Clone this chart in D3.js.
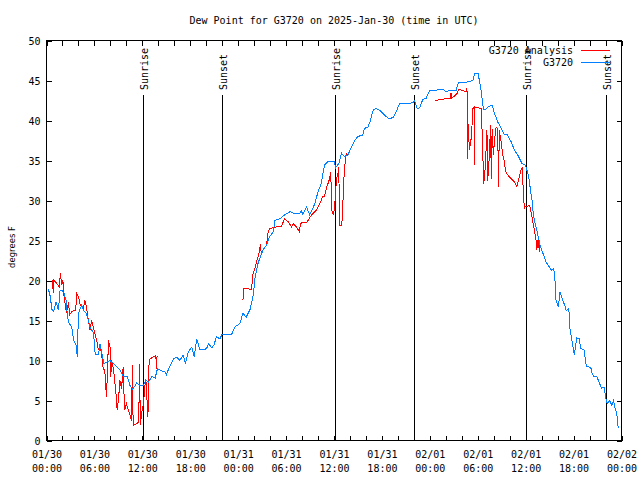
<!DOCTYPE html>
<html><head><meta charset="utf-8">
<script src="https://cdn.jsdelivr.net/npm/d3@7"></script>
<style>
body{margin:0;background:#fff}
svg text{font-family:"DejaVu Sans Mono","Liberation Mono",monospace;font-size:10px;fill:#000}
</style>
</head><body><svg id="chart" width="640" height="480"></svg>
<script>
// ---- data (hours since 2025-01-30 00:00 UTC, dew point in °F) ----
const blueHours = [0.2,0.4,0.7,0.9,1.2,1.5,1.7,1.9,2.2,2.45,2.55,2.75,3.15,3.4,3.7,3.85,4.0,4.4,4.6,5.0,5.45,5.9,6.1,6.5,6.7,6.9,7.2,7.55,7.95,8.4,8.8,9.2,9.6,10.1,10.45,10.8,11.3,11.7,12.1,12.45,12.75,13.2,13.6,13.9,14.4,14.8,15.0,15.4,15.9,16.3,16.7,17.1,17.4,17.75,18.2,18.5,18.8,19.2,19.6,20.05,20.3,20.7,20.95,21.3,21.7,22.0,23.2,23.6,24.2,24.6,25.0,25.5,25.9,26.1,26.5,27.1,27.55,27.95,28.4,28.6,29.2,29.8,30.5,30.9,31.7,31.9,32.1,32.55,32.95,33.6,34.0,34.4,34.8,35.25,36.0,36.2,36.6,36.95,37.3,37.75,38.2,38.6,39.0,39.6,39.8,40.25,40.5,40.9,41.3,41.7,42.1,42.5,42.95,43.4,43.8,44.2,45.9,46.1,46.4,46.75,47.1,47.55,48.0,48.8,49.6,50.05,50.5,51.3,51.6,52.3,52.95,53.4,53.6,54.05,54.2,54.45,54.7,55.0,55.45,55.8,56.1,56.5,56.9,57.3,57.7,58.2,58.6,59.0,59.55,59.96,60.25,60.45,60.6,60.8,60.9,61.1,61.3,61.5,61.85,62.2,62.55,62.95,63.2,63.5,63.65,63.8,64.1,64.3,64.6,64.95,65.1,65.4,65.55,65.8,66.1,66.4,66.7,66.9,67.3,67.6,67.9,68.2,68.3,68.5,68.9,69.2,69.5,69.8,70.05,70.2,70.5,70.8,71.0,71.2,71.4,71.6];
const blueValues = [18.9,18.4,16.3,16.1,17.3,16.3,18.8,18.8,18.4,17.5,16.3,14.8,14.2,12.5,11.9,10.5,15.9,16.9,16.3,15.9,14.2,13.4,10.7,10.7,12.1,11.1,9.6,9.8,10.0,9.6,9.2,8.8,8.0,8.0,6.9,6.4,7.2,6.9,6.8,7.6,7.3,8.0,7.8,9.0,8.7,8.6,8.2,9.2,10.2,10.4,10.0,10.7,9.6,11.1,11.7,10.4,12.7,11.4,11.3,11.5,12.1,11.6,11.9,13.0,12.7,13.3,13.3,14.2,14.6,15.9,15.4,16.4,18.2,20.3,22.2,23.8,24.4,25.5,26.1,27.5,27.7,28.2,28.6,28.4,28.4,28.7,28.3,29.2,28.2,29.6,31.1,32.1,34.4,34.9,34.9,34.1,34.6,35.9,35.5,35.7,36.7,37.5,38.0,38.2,39.0,39.2,39.8,41.3,41.5,41.3,40.9,40.5,40.2,40.4,41.1,42.1,42.2,42.5,41.5,41.6,42.6,42.8,43.8,43.8,43.9,43.6,43.8,43.8,44.8,44.7,44.9,45.0,45.9,45.9,45.0,43.6,41.4,41.4,41.8,41.9,40.9,39.8,39.1,38.3,38.2,37.3,36.3,35.7,34.6,34.4,33.5,32.5,31.3,30.0,28.8,27.5,26.7,25.8,24.2,23.3,22.3,21.7,21.3,21.5,20.4,17.5,16.7,18.6,17.7,16.7,16.2,16.5,13.9,12.5,10.7,12.8,12.7,11.5,11.3,9.3,9.2,9.0,8.5,8.0,8.0,7.3,6.5,6.7,5.2,4.6,5.0,4.4,5.0,4.0,3.4,1.5];

const redHours = [0.75,0.85,0.9,1.3,1.6,1.75,1.9,2.05,2.2,2.5,2.75,2.9,3.15,3.65,3.8,4.0,4.2,4.4,4.6,4.8,5.0,5.25,5.45,5.65,5.9,6.1,6.3,6.5,6.7,6.9,7.1,7.3,7.5,7.65,7.75,7.95,8.05,8.15,8.4,8.7,8.85,9.0,9.2,9.4,9.6,9.7,9.8,10.0,10.25,10.45,10.65,10.75,10.85,11.3,11.55,11.65,11.75,11.95,12.15,12.3,12.45,12.7,12.8,12.95,13.3,13.7,13.75,13.85,
  19.0,
  24.6,24.65,25.7,25.8,26.1,26.3,26.6,26.8,26.9,27.1,27.55,27.75,27.95,28.4,28.8,29.4,29.8,30.3,30.7,30.9,31.3,31.65,31.8,32.1,32.6,33.2,33.6,33.8,34.3,34.6,34.8,35.1,35.45,35.6,35.7,35.95,36.1,36.2,36.3,36.5,36.6,36.7,36.9,37.05,37.2,37.45,37.6,37.7,
  43.0,
  48.6,49.2,49.8,50.6,50.65,50.7,50.9,51.45,51.6,52.55,52.65,52.75,52.8,52.95,53.2,53.4,53.55,53.6,53.65,54.35,54.45,54.75,54.95,55.15,55.25,55.45,55.6,55.7,55.8,55.95,56.1,56.3,56.5,56.6,56.7,56.9,57.1,57.3,57.5,57.75,58.2,58.6,58.9,59.0,59.2,59.4,59.6,59.7,59.85,59.9,60.05,60.5,60.7,60.9,61.1,61.3,61.4,61.5,61.6,61.7,61.75];
const redValues = [20.0,18.4,20.1,19.6,19.2,20.9,19.4,20.0,18.0,15.9,17.3,15.7,16.1,16.3,18.4,18.0,17.1,16.7,16.5,17.5,16.7,15.0,13.8,15.0,14.0,13.2,12.5,11.3,12.1,10.7,9.0,8.8,5.5,8.8,12.5,11.7,8.0,10.0,8.8,5.9,3.8,5.0,7.5,6.5,9.2,5.9,3.8,4.6,3.8,3.2,2.5,9.4,1.9,2.1,2.3,9.5,2.0,3.6,4.6,6.7,7.5,2.9,9.2,10.2,10.4,10.6,9.0,10.6,
  null,
  17.5,19.0,18.9,20.7,21.5,22.3,23.4,24.6,23.2,23.8,24.4,26.1,26.5,26.6,26.7,26.7,27.7,27.3,26.7,27.1,26.7,26.1,27.1,27.3,27.3,28.2,28.6,28.8,29.8,30.5,30.5,31.7,32.7,33.6,28.8,28.2,29.6,30.9,32.7,33.4,34.2,26.9,26.9,27.7,32.3,35.5,35.9,35.7,
  null,
  42.5,42.6,42.7,42.7,43.4,42.8,42.9,43.4,43.9,43.6,44.0,35.2,39.6,36.3,37.9,41.5,41.7,34.4,41.7,41.5,41.5,32.1,34.2,38.8,32.5,35.5,39.4,32.7,38.9,35.7,37.5,39.2,39.0,31.7,38.8,37.5,35.9,35.0,33.6,33.2,32.7,32.3,31.7,32.1,32.9,33.8,34.2,30.9,29.0,29.2,29.2,29.4,28.4,27.3,26.3,25.0,23.8,24.8,25.4,23.6,24.6];

const sunLabels = ["Sunrise","Sunset","Sunrise","Sunset","Sunrise","Sunset"];
const sunHours = [12.12,22.02,36.17,46.06,60.08,70.1];

const yTickValues = [0,5,10,15,20,25,30,35,40,45,50];
const xLabelHours = [0,6,12,18,24,30,36,42,48,54,60,66,72];
const xMinorHours = d3.range(0,73,2);
const seriesNames = ["G3720 Analysis","G3720"];

const titleText = "Dew Point for G3720 on 2025-Jan-30 (time in UTC)";
const yLabelText = "degrees F";

// ---- layout / style ----
const colors = {analysis:"#ff0000", obs:"#0080ff"};
const L = 46.5, R = 621.5, T = 40.5, B = 440.5;
const t0 = Date.UTC(2025,0,30,0,0,0);
const toDate = h => new Date(t0 + h*3600e3);

const svg = d3.select("#chart");
const x = d3.scaleUtc().domain([toDate(0), toDate(72)]).range([L, R]);
const y = d3.scaleLinear().domain([0,50]).range([B, T]);

// title
svg.append("text").attr("x",(L+R)/2).attr("y",24).attr("text-anchor","middle").text(titleText);

// y label
svg.append("text").attr("transform","translate(15,247) rotate(-90)")
  .attr("text-anchor","middle")
  .style("font-family","'DejaVu Sans',sans-serif").style("font-size","8.5px")
  .text(yLabelText);

// axes ticks (inward, mirrored)
const tickStyle = g => { g.select(".domain").remove(); g.selectAll("line").attr("stroke","#000").attr("shape-rendering","crispEdges"); };
const minorDates = xMinorHours.map(toDate);
svg.append("g").attr("transform",`translate(0,${B})`)
  .call(d3.axisBottom(x).tickValues(minorDates).tickSize(-5).tickSizeOuter(0).tickFormat(""))
  .call(tickStyle);
svg.append("g").attr("transform",`translate(0,${T})`)
  .call(d3.axisTop(x).tickValues(minorDates).tickSize(-5).tickSizeOuter(0).tickFormat(""))
  .call(tickStyle);
svg.append("g").attr("transform",`translate(${L},0)`)
  .call(d3.axisLeft(y).tickValues(yTickValues).tickSize(-5).tickSizeOuter(0).tickPadding(6))
  .call(tickStyle)
  .call(g => g.selectAll("text").attr("font-family",null).attr("font-size",null).attr("dy","0.35em"));
svg.append("g").attr("transform",`translate(${R},0)`)
  .call(d3.axisRight(y).tickValues(yTickValues).tickSize(-5).tickSizeOuter(0).tickFormat(""))
  .call(tickStyle);

// x labels (two lines)
const fmtD = d3.utcFormat("%m/%d"), fmtT = d3.utcFormat("%H:%M");
const xl = svg.append("g").attr("transform",`translate(0,${B})`)
  .call(d3.axisBottom(x).tickValues(xLabelHours.map(toDate)).tickSize(0).tickSizeOuter(0).tickFormat(fmtD));
xl.select(".domain").remove();
xl.selectAll("text").attr("font-family",null).attr("font-size",null)
  .attr("y",17).attr("dy",null)
  .each(function(d){
    d3.select(this).append("tspan").attr("x",0).attr("y",31).text(fmtT(d));
  });

// frame
svg.append("rect").attr("x",L).attr("y",T).attr("width",R-L).attr("height",B-T)
  .attr("fill","none").attr("stroke","#000").attr("shape-rendering","crispEdges");

// sunrise / sunset lines
sunHours.forEach((h,i)=>{
  const xx = Math.round(x(toDate(h)))+0.5;
  svg.append("line").attr("x1",xx).attr("x2",xx).attr("y1",95).attr("y2",B)
    .attr("stroke","#000").attr("shape-rendering","crispEdges");
  svg.append("text").attr("transform",`translate(${xx+0.5},90) rotate(-90)`)
    .attr("dominant-baseline","central").text(sunLabels[i]);
});

// series
const redData = redHours.map((h,i)=>({t:toDate(h), v:redValues[i]}));
const blueData = blueHours.map((h,i)=>({t:toDate(h), v:blueValues[i]}));
const line = d3.line().defined(d=>d.v!==null).x(d=>x(d.t)).y(d=>y(d.v));
svg.append("path").datum(redData).attr("d",line).attr("fill","none")
  .attr("stroke",colors.analysis).attr("stroke-width",1).attr("shape-rendering","crispEdges");
svg.append("path").datum(blueData).attr("d",line).attr("fill","none")
  .attr("stroke",colors.obs).attr("stroke-width",1).attr("shape-rendering","crispEdges");

// legend
const legColors = [colors.analysis, colors.obs];
seriesNames.forEach((n,i)=>{
  const yy = 50 + i*12;
  svg.append("text").attr("x",573).attr("y",yy).attr("text-anchor","end")
    .attr("dominant-baseline","central").text(n);
  svg.append("line").attr("x1",581).attr("x2",610).attr("y1",yy+0.5).attr("y2",yy+0.5)
    .attr("stroke",legColors[i]).attr("shape-rendering","crispEdges");
});
</script>
</body></html>
